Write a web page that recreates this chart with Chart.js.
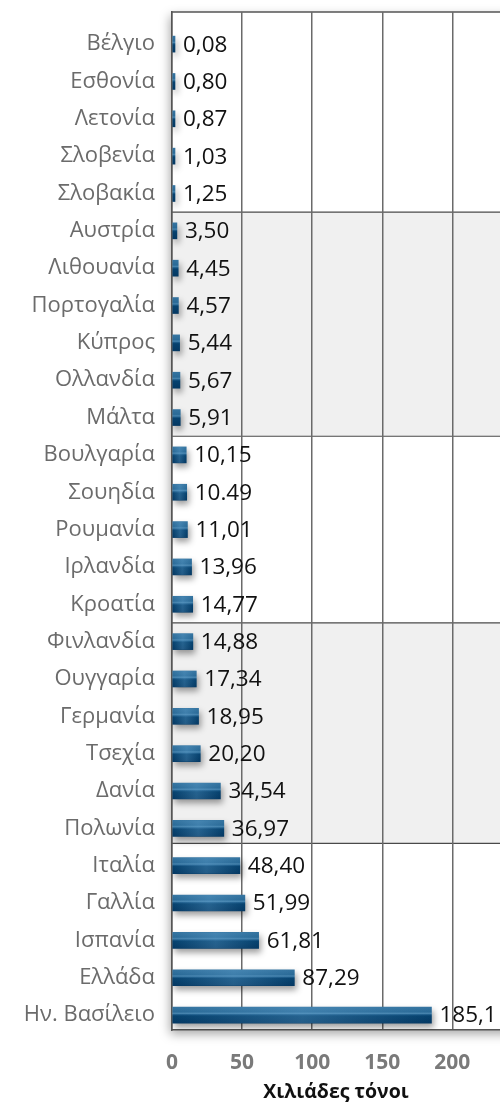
<!DOCTYPE html>
<html lang="el">
<head>
<meta charset="utf-8">
<title>Χιλιάδες τόνοι ανά χώρα</title>
<script src="https://cdn.jsdelivr.net/npm/chart.js@4.4.1/dist/chart.umd.min.js"></script>
<style>
  html, body { margin: 0; padding: 0; background: #ffffff; overflow: hidden; }
  #wrap { width: 500px; height: 1102px; }
</style>
</head>
<body>
<div id="wrap"><canvas id="chart" width="500" height="1102"></canvas></div>
<script>
// Countries, top to bottom
const categories = [
  'Βέλγιο', 'Εσθονία', 'Λετονία', 'Σλοβενία', 'Σλοβακία',
  'Αυστρία', 'Λιθουανία', 'Πορτογαλία', 'Κύπρος', 'Ολλανδία', 'Μάλτα',
  'Βουλγαρία', 'Σουηδία', 'Ρουμανία', 'Ιρλανδία', 'Κροατία',
  'Φινλανδία', 'Ουγγαρία', 'Γερμανία', 'Τσεχία', 'Δανία', 'Πολωνία',
  'Ιταλία', 'Γαλλία', 'Ισπανία', 'Ελλάδα', 'Ην. Βασίλειο'
];

// Thousand tonnes per country
const values = [
  0.08, 0.80, 0.87, 1.03, 1.25,
  3.50, 4.45, 4.57, 5.44, 5.67, 5.91,
  10.15, 10.49, 11.01, 13.96, 14.77,
  14.88, 17.34, 18.95, 20.20, 34.54, 36.97,
  48.40, 51.99, 61.81, 87.29, 185.1
];

// Printed value labels
const valueLabels = [
  '0,08', '0,80', '0,87', '1,03', '1,25',
  '3,50', '4,45', '4,57', '5,44', '5,67', '5,91',
  '10,15', '10.49', '11,01', '13,96', '14,77',
  '14,88', '17,34', '18,95', '20,20', '34,54', '36,97',
  '48,40', '51,99', '61,81', '87,29', '185,1'
];

// Value axis ticks
const xTicks = [0, 50, 100, 150, 200];

// Shaded row groups (row-index boundaries)
const shadedBands = [[4.5, 10.5], [15.5, 21.4]];

const FONT = '"Open Sans", "DejaVu Sans", sans-serif';

function barFill(ctx) {
  const chart = ctx.chart;
  const ys = chart.scales && chart.scales.y;
  if (!ys || !chart.chartArea || ctx.dataIndex === undefined) return '#0b4b7d';
  const yc = ys.getPixelForValue(ctx.dataIndex);
  const g = chart.ctx.createLinearGradient(0, yc - 8, 0, yc + 8);
  g.addColorStop(0.00, '#3574a0');
  g.addColorStop(0.30, '#2a6a97');
  g.addColorStop(0.40, '#4683ad');
  g.addColorStop(0.47, '#1d5c8a');
  g.addColorStop(0.55, '#06426f');
  g.addColorStop(1.00, '#043862');
  return g;
}

// Frame shadow, shaded bands and the frame's top edge
const backdrop = {
  id: 'backdrop',
  beforeDraw(chart) {
    const { ctx, chartArea: a, scales: { y } } = chart;
    ctx.save();
    ctx.shadowColor = 'rgba(0,0,0,0.35)';
    ctx.shadowBlur = 10;
    ctx.shadowOffsetX = -2;
    ctx.shadowOffsetY = 4;
    ctx.fillStyle = '#ffffff';
    ctx.fillRect(a.left, a.top, a.right - a.left + 20, a.bottom - a.top);
    ctx.restore();

    ctx.save();
    shadedBands.forEach(([from, to]) => {
      const y0 = y.getPixelForValue(from);
      const y1 = y.getPixelForValue(to);
      ctx.fillStyle = '#f0f0f0';
      ctx.fillRect(a.left, y0, a.right - a.left, y1 - y0);
      ctx.strokeStyle = '#4a4a4a';
      ctx.lineWidth = 1.2;
      [y0, y1].forEach(py => {
        ctx.beginPath();
        ctx.moveTo(a.left, py);
        ctx.lineTo(a.right, py);
        ctx.stroke();
      });
    });
    ctx.strokeStyle = '#555555';
    ctx.lineWidth = 1.5;
    ctx.beginPath();
    ctx.moveTo(a.left, a.top);
    ctx.lineTo(a.right, a.top);
    ctx.stroke();
    ctx.restore();
  }
};

// Soft drop shadow under the bars
const barShadow = {
  id: 'barShadow',
  beforeDatasetsDraw(chart) {
    const ctx = chart.ctx;
    ctx.save();
    ctx.shadowColor = 'rgba(0,0,0,0.38)';
    ctx.shadowBlur = 6;
    ctx.shadowOffsetX = 2;
    ctx.shadowOffsetY = 4;
  },
  afterDatasetsDraw(chart) {
    chart.ctx.restore();
  }
};

// Light sheen across each bar and the value labels
const barDecor = {
  id: 'barDecor',
  afterDatasetsDraw(chart) {
    const ctx = chart.ctx;
    const meta = chart.getDatasetMeta(0);
    ctx.save();
    meta.data.forEach((el, i) => {
      const { x, y, base, height } = el.getProps(['x', 'y', 'base', 'height'], true);
      const w = x - base;
      if (w > 12) {
        const g = ctx.createLinearGradient(base, 0, x, 0);
        g.addColorStop(0, 'rgba(110,175,220,0)');
        g.addColorStop(0.5, 'rgba(110,175,220,0.30)');
        g.addColorStop(1, 'rgba(110,175,220,0)');
        ctx.fillStyle = g;
        ctx.fillRect(base, y - height / 2, w, height);
      }
      ctx.fillStyle = '#111111';
      ctx.font = '22.5px ' + FONT;
      ctx.textAlign = 'left';
      ctx.textBaseline = 'middle';
      ctx.fillText(valueLabels[i], x + 8, y + 1);
    });
    ctx.restore();
  }
};

new Chart(document.getElementById('chart'), {
  type: 'bar',
  data: {
    datasets: [{
      data: values.map((v, i) => ({ x: v, y: i })),
      backgroundColor: barFill,
      borderWidth: 0,
      barThickness: 16,
      minBarLength: 3
    }]
  },
  options: {
    indexAxis: 'y',
    responsive: false,
    animation: false,
    events: [],
    layout: { padding: { top: 12, right: 0, bottom: 0, left: 0 } },
    plugins: {
      legend: { display: false },
      tooltip: { enabled: false }
    },
    scales: {
      x: {
        type: 'linear',
        min: 0,
        max: 234,
        afterBuildTicks(scale) {
          scale.ticks = xTicks.map(v => ({ value: v }));
        },
        afterFit(scale) {
          scale.height = 72;
          scale.paddingLeft = 0;
          scale.paddingRight = 0;
        },
        grid: {
          color: '#6a6a6a',
          lineWidth: 1.5,
          drawTicks: false
        },
        border: { display: true, color: '#555555', width: 1.5 },
        ticks: {
          padding: 20,
          color: '#7a7a7a',
          font: { family: FONT, size: 21, weight: 'bold' }
        },
        title: {
          display: true,
          text: 'Χιλιάδες τόνοι',
          color: '#111111',
          font: { family: FONT, size: 19.5, weight: 'bold', lineHeight: 1.0 },
          padding: 0
        }
      },
      y: {
        type: 'linear',
        reverse: true,
        offset: false,
        min: -0.86,
        max: 26.4,
        afterBuildTicks(scale) {
          scale.ticks = categories.map((_, i) => ({ value: i }));
        },
        afterFit(scale) {
          scale.width = 172;
          scale.paddingTop = 0;
          scale.paddingBottom = 0;
        },
        grid: { display: false, drawTicks: false, offset: false },
        border: { display: true, color: '#555555', width: 1.5 },
        ticks: {
          padding: 17,
          color: '#6b6b6b',
          font: { family: FONT, size: 22 },
          callback: v => categories[v] ?? ''
        }
      }
    }
  },
  plugins: [backdrop, barShadow, barDecor]
});
</script>
</body>
</html>
